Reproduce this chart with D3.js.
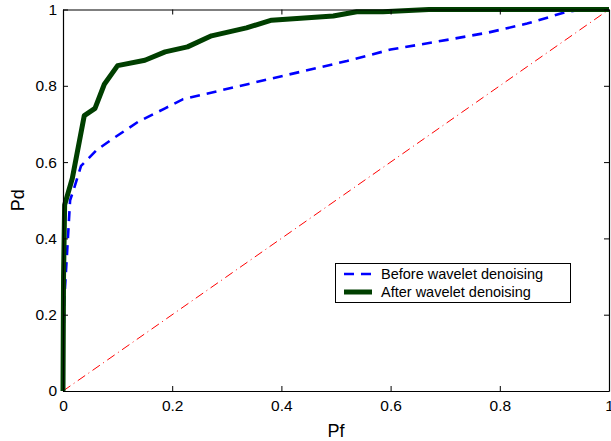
<!DOCTYPE html>
<meta charset="utf-8">
<title>ROC before / after wavelet denoising</title>
<style>
body { margin:0; background:#fff; }
text { font-family: "Liberation Sans", Arial, sans-serif; fill:#000; }
.tick text { font-size:15.5px; }
.domain { stroke:#000; }
</style>
<svg width="611" height="441"></svg>
<script src="https://d3js.org/d3.v7.min.js"></script>
<script>
// ROC points: [Pf, Pd]
var before = [[0,0],[0.002,0.23],[0.009,0.40],[0.013,0.50],[0.02,0.53],[0.033,0.59],[0.062,0.632],
  [0.092,0.662],[0.138,0.706],[0.187,0.741],[0.22,0.765],[0.34,0.805],[0.52,0.865],[0.6,0.895],
  [0.71,0.922],[0.78,0.94],[0.85,0.963],[0.89,0.98],[0.92,0.993],[0.95,1],[1,1]];
var after = [[0,0],[0.001,0.3],[0.003,0.488],[0.017,0.557],[0.039,0.722],[0.0586,0.741],[0.0757,0.804],
  [0.1,0.853],[0.15,0.867],[0.187,0.889],[0.228,0.902],[0.272,0.931],[0.336,0.952],[0.382,0.972],
  [0.495,0.983],[0.538,0.994],[0.586,0.994],[0.67,1],[1,1]];
var chance = [[0,0],[1,1]];
var ticks = [0,0.2,0.4,0.6,0.8,1];
var legendLabels = ["Before wavelet denoising","After wavelet denoising"];

var svg = d3.select("svg"),
    mLeft = 63, mRight = 609, mTop = 9.5, mBottom = 391;

var x = d3.scaleLinear().domain([0,1]).range([mLeft,mRight]),
    y = d3.scaleLinear().domain([0,1]).range([mBottom,mTop]);

var line = d3.line().x(function(d){return x(d[0]);}).y(function(d){return y(d[1]);});

var fmt = function(d){ return d === 0 || d === 1 ? d3.format("d")(d) : d3.format(".1f")(d); };

// curves
var plot = svg.append("g");
plot.append("path").datum(chance).attr("d",line)
  .attr("fill","none").attr("stroke","#ff0000").attr("stroke-width",1)
  .attr("stroke-dasharray","9,4,1,4");
plot.append("path").datum(before).attr("d",line)
  .attr("fill","none").attr("stroke","#0000ff").attr("stroke-width",2.6)
  .attr("stroke-dasharray","10,7");
plot.append("path").datum(after).attr("d",line)
  .attr("fill","none").attr("stroke","#003f00").attr("stroke-width",5)
  .attr("stroke-linejoin","round");

// axes, ticks inward on all four sides
svg.append("g").attr("transform","translate(0,"+mBottom+")")
  .call(d3.axisBottom(x).tickValues(ticks).tickFormat(fmt).tickSizeInner(-5).tickSizeOuter(0).tickPadding(9));
svg.append("g").attr("transform","translate(0,"+mTop+")")
  .call(d3.axisTop(x).tickValues(ticks).tickFormat("").tickSizeInner(-5).tickSizeOuter(0));
svg.append("g").attr("transform","translate("+mLeft+",0)")
  .call(d3.axisLeft(y).tickValues(ticks).tickFormat(fmt).tickSizeInner(-5).tickSizeOuter(0).tickPadding(6));
svg.append("g").attr("transform","translate("+mRight+",0)")
  .call(d3.axisRight(y).tickValues(ticks).tickFormat("").tickSizeInner(-5).tickSizeOuter(0));
svg.selectAll(".domain").attr("stroke-width",1.2);

svg.append("text").attr("x",(mLeft+mRight)/2).attr("y",437).attr("text-anchor","middle")
  .style("font-size","18px").text("Pf");
svg.append("text").attr("transform","translate(24,"+((mTop+mBottom)/2)+") rotate(-90)")
  .attr("text-anchor","middle").style("font-size","18px").text("Pd");

// legend
var lg = svg.append("g");
lg.append("rect").attr("x",335.5).attr("y",263.5).attr("width",235).attr("height",39)
  .attr("fill","#fff").attr("stroke","#000").attr("stroke-width",1);
var styles = [{c:"#0000ff",w:2.6,d:"10,7"},{c:"#003f00",w:5,d:null}];
legendLabels.forEach(function(t,i){
  var yy = 274 + i*18;
  lg.append("line").attr("x1",344).attr("x2",372).attr("y1",yy).attr("y2",yy)
    .attr("stroke",styles[i].c).attr("stroke-width",styles[i].w)
    .attr("stroke-dasharray",styles[i].d);
  lg.append("text").attr("x",381).attr("y",yy+5).style("font-size","14.5px").text(t);
});
</script>
